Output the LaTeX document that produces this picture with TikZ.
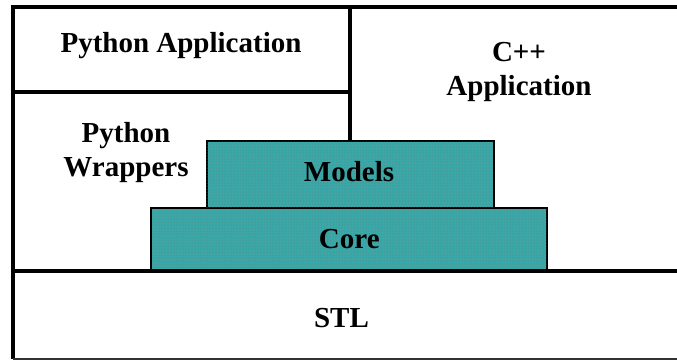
\documentclass[tikz,border=0pt]{standalone}
\usepackage{fontspec}
\setmainfont{Liberation Serif}
\usetikzlibrary{patterns}
\definecolor{layerteal}{RGB}{58,168,168}
\begin{document}
\begin{tikzpicture}[x=1pt,y=-1pt,
  frame/.style={line width=3.2pt},
  thinframe/.style={line width=1.6pt, draw=black!80},
  lbl/.style={font=\fontsize{29}{34}\selectfont\bfseries, align=center, anchor=base, inner sep=0pt},
  layer/.style={draw, line width=2pt, fill=layerteal, inner sep=0pt,
    postaction={pattern=dots, pattern color=black!55}}]
\useasboundingbox (0,0) rectangle (677,360);

% outer frame and partitions
\coordinate (tl) at (13,7);
\coordinate (tr) at (677,7);
\coordinate (bl) at (13,359);
\coordinate (br) at (677,359);
\coordinate (pyl) at (13,92);
\coordinate (pyr) at (350,92);
\coordinate (divtop) at (350,7);
\coordinate (stll) at (13,271);
\coordinate (stlr) at (677,271);

% library layers
\node[layer, minimum width=396pt, minimum height=63pt] (core) at (349,239.5) {};
\node[layer, minimum width=287pt, minimum height=67pt] (models) at (350,174.5) {};

\draw[frame] (tr) -- (tl) -- (bl);
\draw[frame] (pyl) -- (pyr);
\draw[frame] (divtop) -- (models.north);
\draw[frame] (stll) -- (stlr);
\draw[thinframe] (bl) -- (br);

% labels (two-line labels are placed by their last baseline)
\node[lbl] (pyapp) at (181,52.3) {Python Application};
\node[lbl] (cppapp) at (519,95) {C++\\Application};
\node[lbl] (pywrap) at (126,176.7) {Python\\Wrappers};
\node[lbl] (modelstxt) at (349,181) {Models};
\node[lbl] (coretxt) at (349.3,248.8) {Core};
\node[lbl] (stl) at (341.5,327.3) {STL};
\end{tikzpicture}
\end{document}
